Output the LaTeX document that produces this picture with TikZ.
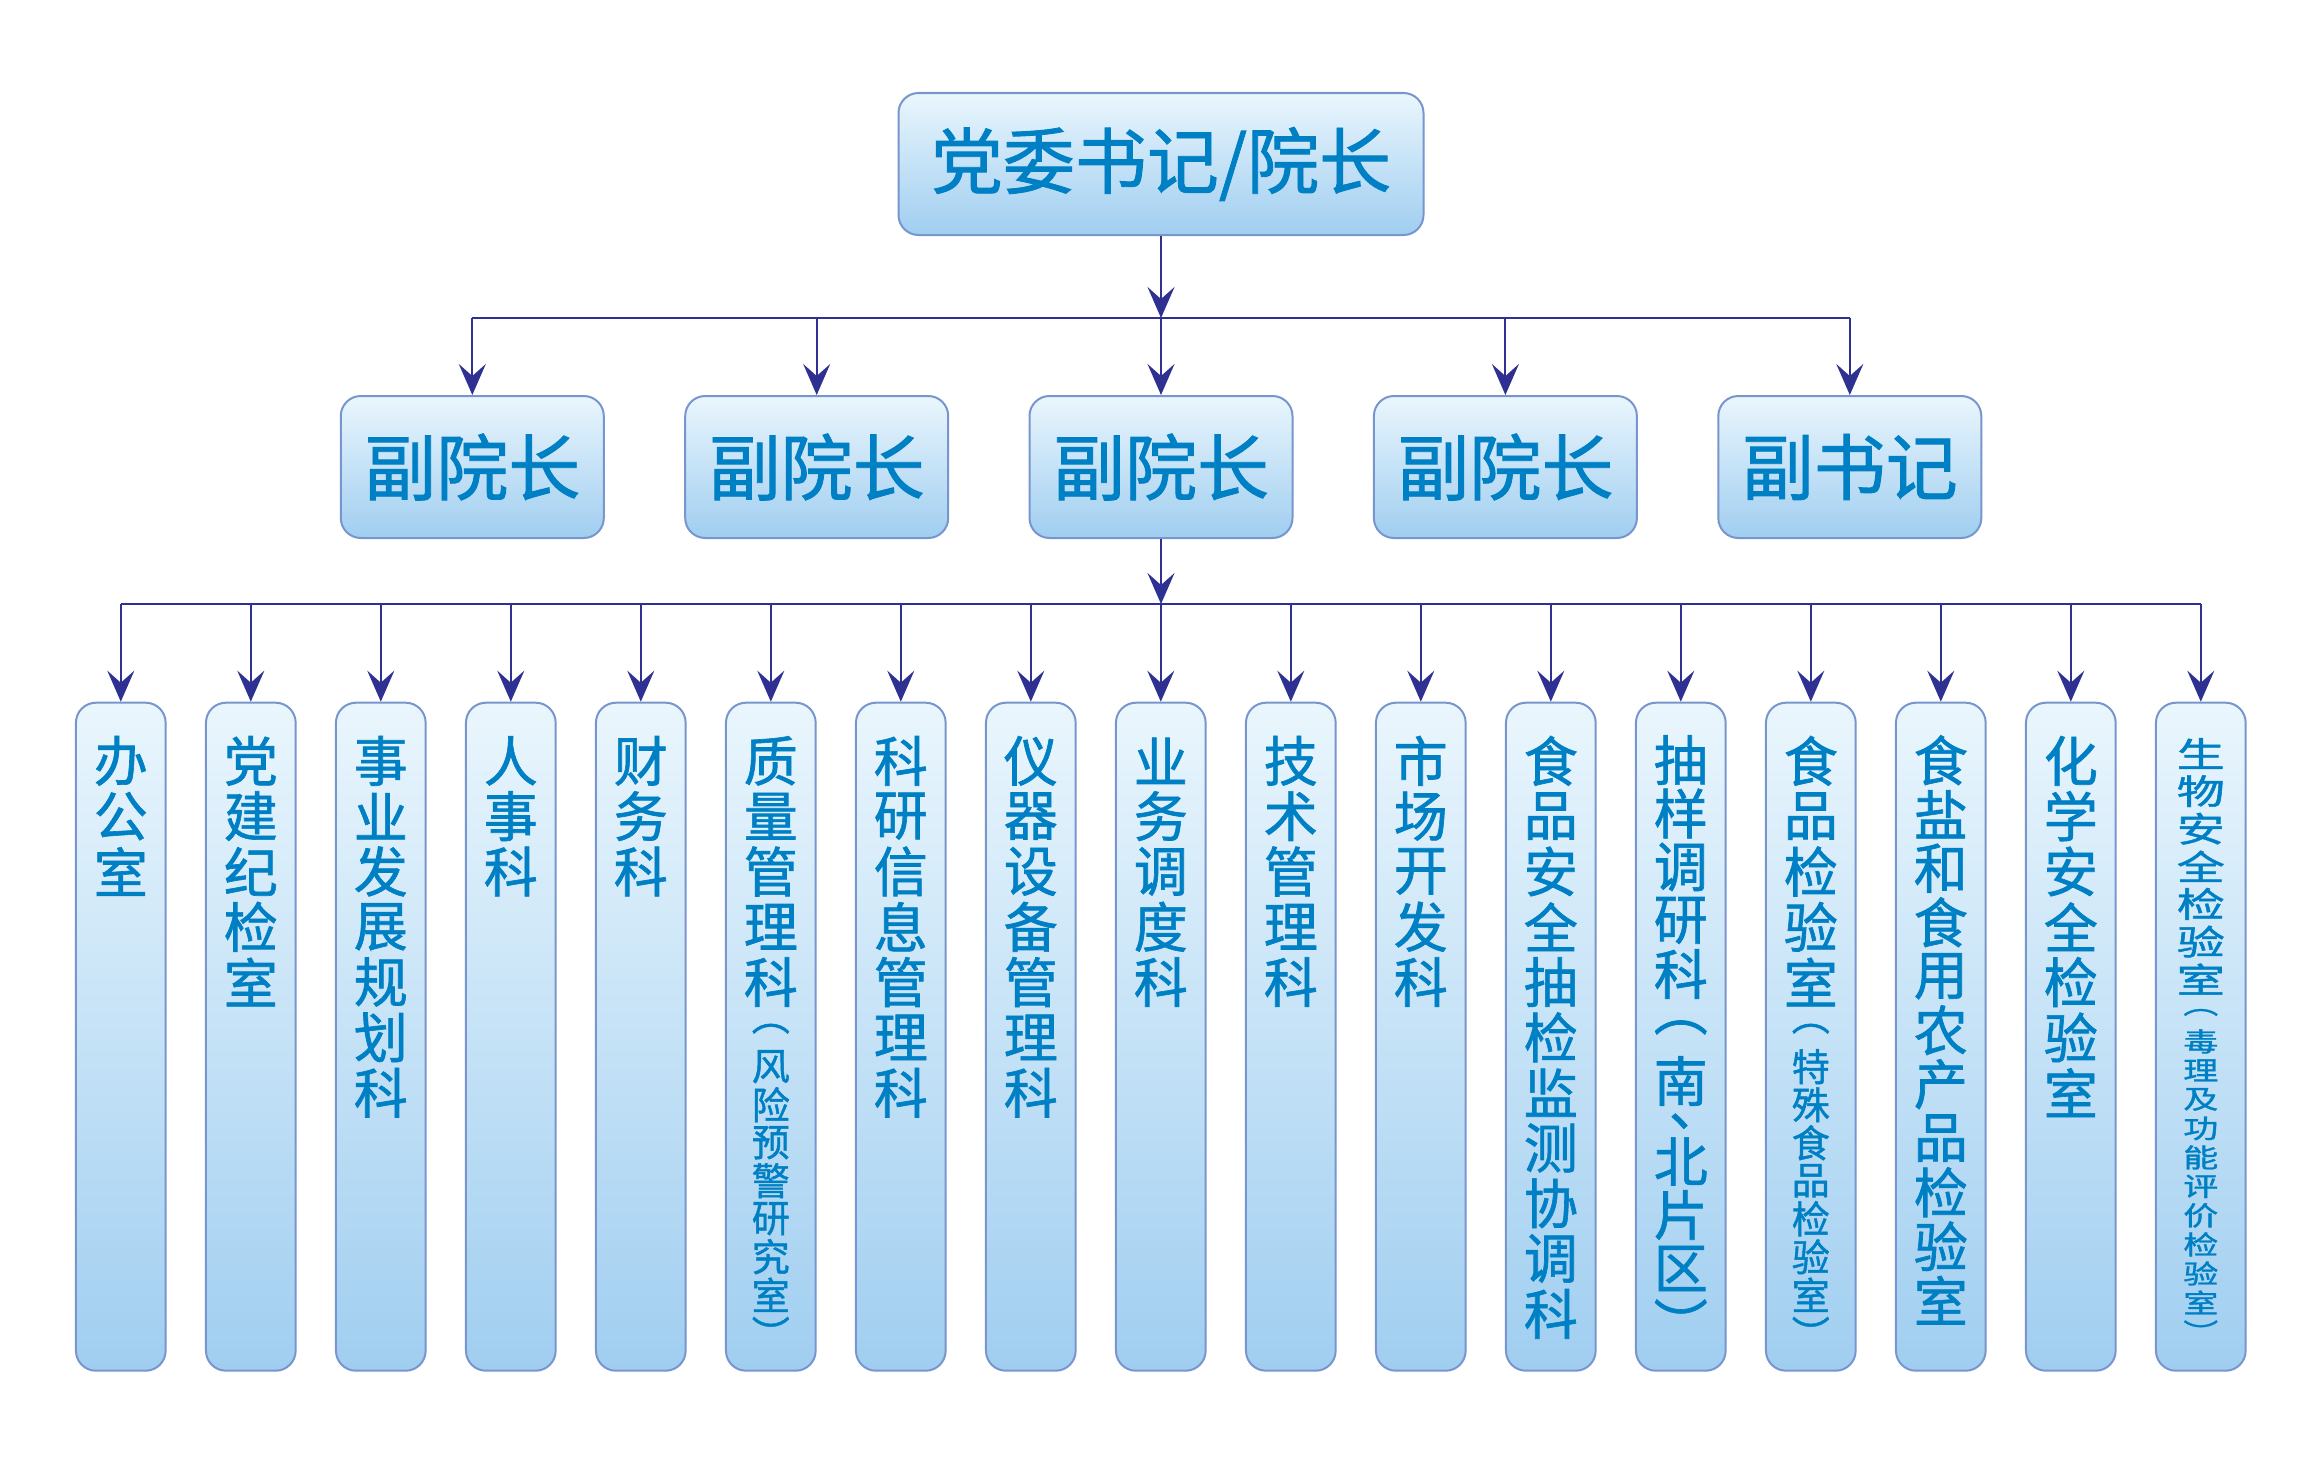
\documentclass[tikz,border=0pt]{standalone}
\usepackage{fontspec}
\usepackage{graphicx}
\setmainfont{Noto Sans CJK SC}[FakeBold=1.2]
\usetikzlibrary{arrows.meta}
\definecolor{navy}{RGB}{46,49,146}
\definecolor{bord}{RGB}{120,150,205}
\definecolor{topc}{RGB}{234,246,253}
\definecolor{botc}{RGB}{160,206,240}
\definecolor{txt}{RGB}{0,128,196}
\makeatletter
\newdimen\vc@pitch
\newcommand\vstk[4][1]{%
  \vc@pitch=#2\relax
  \def\vc@scale{#1}%
  \fontsize{#3}{#3}\selectfont
  \vc@loop#4\vc@end}
\def\vc@end{\vc@end}
\def\vc@loop#1{%
  \ifx#1\vc@end\else
    \vbox to\vc@pitch{\vss\hbox to 0pt{\hss\scalebox{1}[\vc@scale]{#1}\hss}\vss}%
    \expandafter\vc@loop
  \fi}
\makeatother
\newcommand\dun{\kern.56em 、}
\tikzset{
  boxbase/.style={draw=bord, line width=2pt, rounded corners=20pt,
    top color=topc, bottom color=botc, inner sep=0pt},
  headbox/.style={boxbase, minimum width=525pt, minimum height=142pt,
    font=\fontsize{72}{80}\selectfont, text=txt},
  midbox/.style={boxbase, minimum width=263pt, minimum height=142pt,
    font=\fontsize{72}{80}\selectfont, text=txt},
  colbox/.style={boxbase, minimum width=89.7pt, minimum height=668pt},
  vlab/.style={anchor=north, inner sep=0pt, text=txt},
  bus/.style={draw=navy, line width=2pt},
  arr/.style={draw=navy, line width=2pt, -{Stealth[length=31pt,width=27pt,inset=12pt]}}
}
\begin{document}
\begin{tikzpicture}[x=1pt,y=-1pt]
\useasboundingbox[fill=white] (0,0) rectangle (2322,1464);

% top
\node[headbox] (top) at (1161,164) {党委书记/院长};

% middle row
\node[midbox] (m1) at (472.3,467) {副院长};
\node[midbox] (m2) at (816.7,467) {副院长};
\node[midbox] (m3) at (1161,467) {副院长};
\node[midbox] (m4) at (1505.4,467) {副院长};
\node[midbox] (m5) at (1849.8,467) {副书记};

\coordinate (p1) at (472.3,318);
\coordinate (p2) at (816.7,318);
\coordinate (p3) at (1161,318);
\coordinate (p4) at (1505.4,318);
\coordinate (p5) at (1849.8,318);
\draw[bus] (p1) -- (p5);
\draw[arr] (top.south) -- (p3);
\foreach \i in {1,...,5} { \draw[arr] (p\i) -- (m\i.north); }

% bottom row
\foreach \i in {1,...,17} {
  \node[colbox] (c\i) at ({120.8+130*(\i-1)},1036.7) {};
  \coordinate (q\i) at ({120.8+130*(\i-1)},604);
}
\coordinate (qc) at (1161,604);
\draw[bus] (q1) -- (q17);
\draw[arr] (m3.south) -- (qc);
\foreach \i in {1,...,17} { \draw[arr] (q\i) -- (c\i.north); }

\node[vlab] (t1) at (c1.center |- 0,733) {\vbox{\offinterlineskip\vstk{55.3pt}{54}{办公室}}};
\node[vlab] (t2) at (c2.center |- 0,733) {\vbox{\offinterlineskip\vstk{55.3pt}{54}{党建纪检室}}};
\node[vlab] (t3) at (c3.center |- 0,733) {\vbox{\offinterlineskip\vstk{55.3pt}{54}{事业发展规划科}}};
\node[vlab] (t4) at (c4.center |- 0,733) {\vbox{\offinterlineskip\vstk{55.3pt}{54}{人事科}}};
\node[vlab] (t5) at (c5.center |- 0,733) {\vbox{\offinterlineskip\vstk{55.3pt}{54}{财务科}}};
\node[vlab] (t6) at (c6.center |- 0,733) {\vbox{\offinterlineskip\vstk{55.3pt}{54}{质量管理科}\vstk{38pt}{38}{︵风险预警研究室︶}}};
\node[vlab] (t7) at (c7.center |- 0,733) {\vbox{\offinterlineskip\vstk{55.3pt}{54}{科研信息管理科}}};
\node[vlab] (t8) at (c8.center |- 0,733) {\vbox{\offinterlineskip\vstk{55.3pt}{54}{仪器设备管理科}}};
\node[vlab] (t9) at (c9.center |- 0,733) {\vbox{\offinterlineskip\vstk{55.3pt}{54}{业务调度科}}};
\node[vlab] (t10) at (c10.center |- 0,733) {\vbox{\offinterlineskip\vstk{55.3pt}{54}{技术管理科}}};
\node[vlab] (t11) at (c11.center |- 0,733) {\vbox{\offinterlineskip\vstk{55.3pt}{54}{市场开发科}}};
\node[vlab] (t12) at (c12.center |- 0,733) {\vbox{\offinterlineskip\vstk{55.3pt}{54}{食品安全抽检监测协调科}}};
\node[vlab] (t13) at (c13.center |- 0,733) {\vbox{\offinterlineskip\vstk{53.5pt}{54}{抽样调研科︵南}\vstk{27pt}{54}{\dun}\vstk{53.5pt}{54}{北片区︶}}};
\node[vlab] (t14) at (c14.center |- 0,733) {\vbox{\offinterlineskip\vstk{55.3pt}{54}{食品检验室}\vstk{38pt}{38}{︵特殊食品检验室︶}}};
\node[vlab] (t15) at (c15.center |- 0,733) {\vbox{\offinterlineskip\vstk{54pt}{54}{食盐和食用农产品检验室}}};
\node[vlab] (t16) at (c16.center |- 0,733) {\vbox{\offinterlineskip\vstk{55.3pt}{54}{化学安全检验室}}};
\node[vlab] (t17) at (c17.center |- 0,734.5) {\vbox{\offinterlineskip\vstk[0.72]{37.6pt}{48}{生物安全检验室}\vstk[0.75]{29pt}{35}{︵毒理及功能评价检验室︶}}};
\end{tikzpicture}
\end{document}
